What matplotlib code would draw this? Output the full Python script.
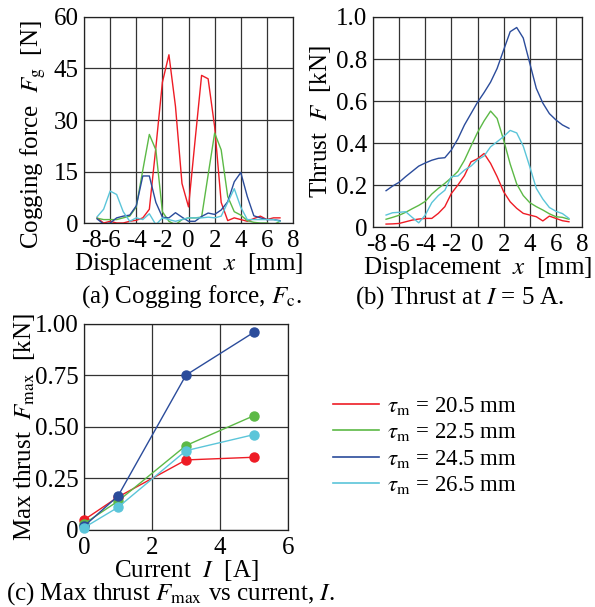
import numpy as np
import matplotlib
matplotlib.use("Agg")
import matplotlib.pyplot as plt
import matplotlib.transforms as mtransforms

plt.rcParams['font.family'] = ['Liberation Serif', 'DejaVu Serif']
plt.rcParams['mathtext.fontset'] = 'stix'
plt.rcParams['font.size'] = 18
plt.rcParams['axes.unicode_minus'] = False

# displacement [mm]
x = np.arange(-7, 7.01, 0.5)

# (a) cogging force [N]
cog_205 = [1.5, 0, 0.5, 0, 0, 0.5, 0.8, 1.5, 4, 22, 41, 49, 34, 11.5, 4.7,
           24, 43, 42, 28, 6, 0.7, 1.5, 1, 0.5, 1.3, 2, 1, 1.5, 1.5]
cog_225 = [1.4, 1, 1, 1, 1.5, 2, 4.7, 15.4, 25.8, 21.3, 3.3, 0.5, -0.5, 1.0, 1.5,
           1.5, 1.7, 14, 26.2, 21.3, 7.7, 3.3, 2.3, 0.7, 0.2, 0, 0, -0.5, 0.5]
cog_245 = [1.2, -0.3, 0, 1.5, 2, 2.3, 5, 13.7, 13.7, 6, 1.7, 1.5, 3, 1.7, 0.5,
           0.5, 1.9, 2.9, 2.5, 3.8, 6.2, 12, 14.7, 7.7, 2.1, 1.5, 1, 1, 0.7]
cog_265 = [1.8, 4, 9.3, 8.3, 3.3, 0.5, 1.5, 1, 2.7, -0.5, 1.5, 1, 0.5, 1.0, 1.5,
           1.5, 1.5, 1.7, 1.5, 2, 6, 10, 4.6, 1, 1, 1, 1, 1, 0.5]

# (b) thrust at I = 5 A [kN]
thr_205 = [0.014, 0.015, 0.017, 0.025, 0.033, 0.038, 0.041, 0.041, 0.065, 0.097,
           0.16, 0.2, 0.245, 0.31, 0.325, 0.35, 0.303, 0.24, 0.168, 0.12,
           0.089, 0.065, 0.057, 0.049, 0.029, 0.052, 0.041, 0.03, 0.025]
thr_225 = [0.037, 0.046, 0.056, 0.07, 0.087, 0.103, 0.122, 0.157, 0.184, 0.208,
           0.235, 0.265, 0.318, 0.385, 0.45, 0.505, 0.552, 0.517, 0.414, 0.30,
           0.205, 0.15, 0.116, 0.097, 0.081, 0.063, 0.049, 0.046, 0.037]
thr_245 = [0.173, 0.195, 0.213, 0.24, 0.265, 0.29, 0.305, 0.318, 0.327, 0.33,
           0.367, 0.42, 0.486, 0.54, 0.594, 0.64, 0.69, 0.755, 0.843, 0.93,
           0.95, 0.9, 0.78, 0.66, 0.59, 0.54, 0.51, 0.486, 0.47]
thr_265 = [0.057, 0.068, 0.07, 0.073, 0.046, 0.02, 0.057, 0.116, 0.15, 0.175,
           0.24, 0.243, 0.271, 0.29, 0.32, 0.338, 0.382, 0.406, 0.431, 0.46,
           0.448, 0.385, 0.287, 0.184, 0.133, 0.093, 0.075, 0.064, 0.041]

# (c) max thrust vs current
current = [0, 1, 3, 5]
fmax_205 = [0.049, 0.16, 0.34, 0.353]
fmax_225 = [0.03, 0.14, 0.41, 0.555]
fmax_245 = [0.018, 0.165, 0.752, 0.96]
fmax_265 = [0.011, 0.11, 0.385, 0.463]

colors = ['#ee1c25', '#5cb946', '#2b4c9b', '#5bc5d9']
labels = [r'$\tau_{\mathrm{m}}$ = 20.5 mm', r'$\tau_{\mathrm{m}}$ = 22.5 mm',
          r'$\tau_{\mathrm{m}}$ = 24.5 mm', r'$\tau_{\mathrm{m}}$ = 26.5 mm']

fig = plt.figure(figsize=(5.95, 6.07), dpi=100)
ax_a = fig.add_axes([0.1412, 0.6326, 0.3513, 0.3394])
ax_b = fig.add_axes([0.6269, 0.626, 0.3513, 0.346])
ax_c = fig.add_axes([0.1412, 0.1269, 0.3429, 0.3394])


def style(ax):
    ax.grid(True, color='#333333', lw=0.9)
    ax.set_axisbelow(True)
    ax.tick_params(axis='x', length=0, pad=5)
    ax.tick_params(axis='y', length=0, pad=4)
    for s in ax.spines.values():
        s.set_color('#222222')
        s.set_linewidth(0.9)


def nudge_first_xlabel(ax, dx_px):
    lab = ax.get_xticklabels()[0]
    shift = mtransforms.ScaledTranslation(dx_px / 100, 0, fig.dpi_scale_trans)
    lab.set_transform(lab.get_transform() + shift)


for ys, c in zip([cog_205, cog_225, cog_245, cog_265], colors):
    ax_a.plot(x, ys, color=c, lw=1.0)
ax_a.set_xlim(-8, 8)
ax_a.set_ylim(0, 60)
ax_a.set_xticks(np.arange(-8, 9, 2))
ax_a.set_yticks([0, 15, 30, 45, 60])
ax_a.set_xlabel(r'Displacement  $x$  [mm]', labelpad=-1)
ax_a.set_ylabel(r'Cogging force  $F_{\mathrm{g}}$  [N]')
ax_a.yaxis.set_label_coords(-0.17, 0.43)
style(ax_a)
nudge_first_xlabel(ax_a, 7)

for ys, c in zip([thr_205, thr_225, thr_245, thr_265], colors):
    ax_b.plot(x, ys, color=c, lw=1.0)
ax_b.set_xlim(-8, 8)
ax_b.set_ylim(0, 1.0)
ax_b.set_xticks(np.arange(-8, 9, 2))
ax_b.set_yticks([0, 0.2, 0.4, 0.6, 0.8, 1.0])
ax_b.set_yticklabels(['0', '0.2', '0.4', '0.6', '0.8', '1.0'])
ax_b.set_xlabel(r'Displacement  $x$  [mm]', labelpad=-1)
ax_b.set_ylabel(r'Thrust  $F$  [kN]')
ax_b.yaxis.set_label_coords(-0.19, 0.5)
style(ax_b)
nudge_first_xlabel(ax_b, 3)

for ys, c, lab in zip([fmax_205, fmax_225, fmax_245, fmax_265], colors, labels):
    ax_c.plot(current, ys, color=c, lw=1.0, marker='o', ms=6.5,
              clip_on=False, zorder=3)
ax_c.set_xlim(0, 6)
ax_c.set_ylim(0, 1.0)
ax_c.set_xticks([0, 2, 4, 6])
ax_c.set_yticks([0, 0.25, 0.5, 0.75, 1.0])
ax_c.set_yticklabels(['0', '0.25', '0.50', '0.75', '1.00'])
ax_c.set_xlabel(r'Current  $I$  [A]', labelpad=-1)
ax_c.set_ylabel(r'Max thrust  $F_{\mathrm{max}}$  [kN]')
ax_c.yaxis.set_label_coords(-0.23, 0.5)
style(ax_c)

handles = [plt.Line2D([], [], color=c, lw=1.2) for c in colors]
fig.legend(handles, labels, loc='upper left', bbox_to_anchor=(0.545, 0.365),
           frameon=False, fontsize=16.5, handlelength=2.0, handletextpad=0.35,
           labelspacing=0.2, borderaxespad=0)

fig.text(0.322, 0.512, r'(a) Cogging force, $F_{\mathrm{c}}$.', ha='center', va='center')
fig.text(0.773, 0.509, r'(b) Thrust at $I$ = 5 A.', ha='center', va='center')
fig.text(0.286, 0.022, r'(c) Max thrust $F_{\mathrm{max}}$ vs current, $I$.', ha='center', va='center')

fig.savefig('out.png', dpi=100)
